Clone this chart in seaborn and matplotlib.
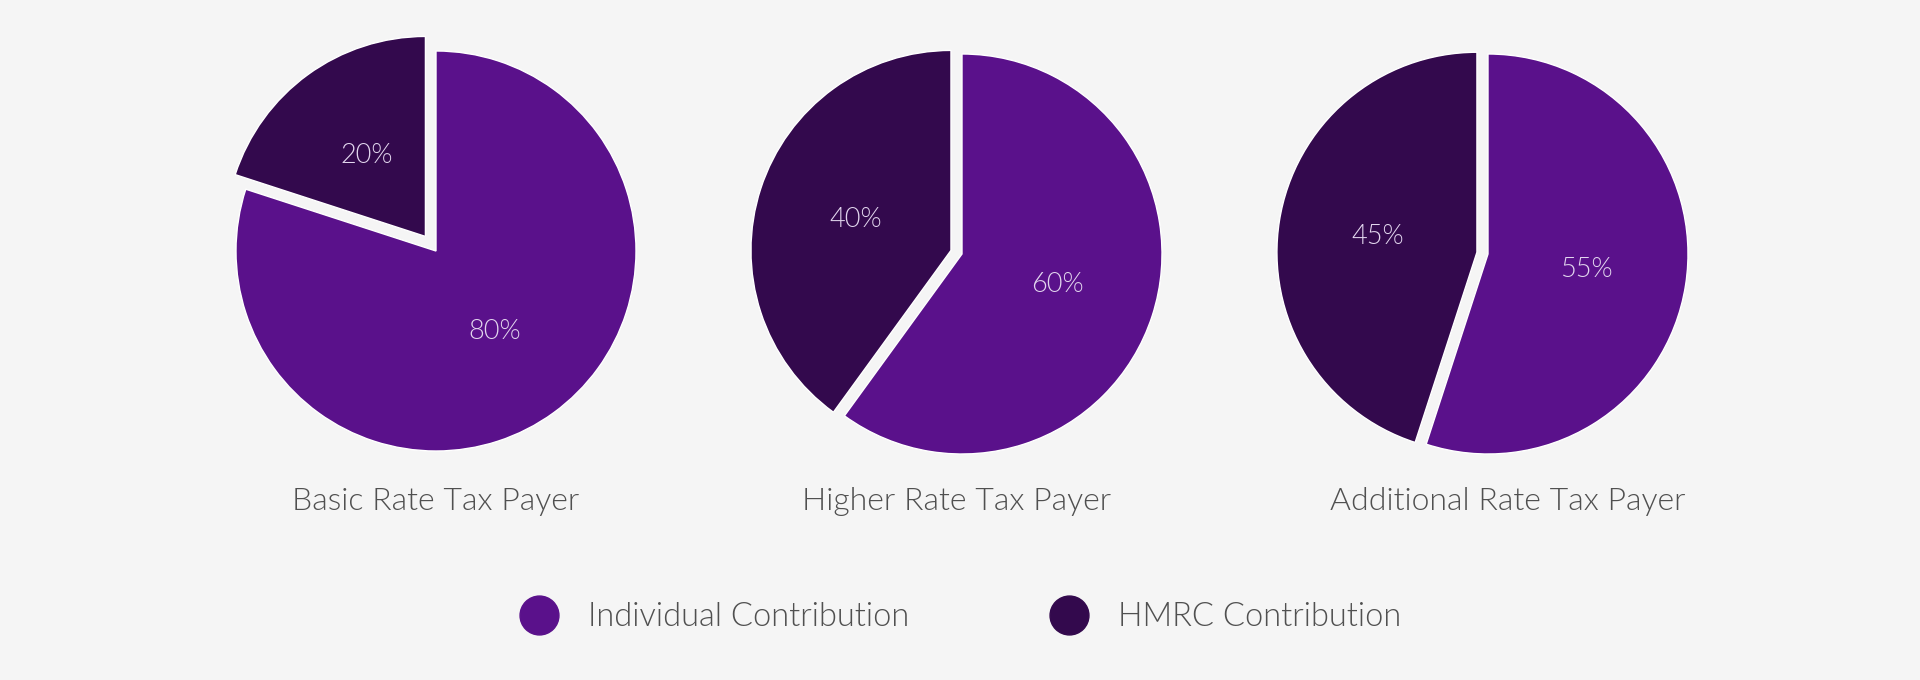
import matplotlib
matplotlib.use("Agg")
import matplotlib.pyplot as plt
from matplotlib.lines import Line2D
import seaborn as sns

# data
payer_types = ["Basic Rate Tax Payer", "Higher Rate Tax Payer", "Additional Rate Tax Payer"]
hmrc_share = [20, 40, 45]
individual_share = [80, 60, 55]
series_names = ["Individual Contribution", "HMRC Contribution"]

sns.set_theme(style="white")
plt.rcParams['font.family'] = ['Lato', 'DejaVu Sans']

bg = "#f5f5f5"
palette = sns.color_palette(["#5a118b", "#33094d"])
ind_color, hmrc_color = palette[0], palette[1]
text_grey = "#505050"

fig = plt.figure(figsize=(19.2, 6.8), dpi=100, facecolor=bg)

# layout in pixels
centers = [(436, 251), (962, 254), (1488, 254)]
title_dx = [0, -5, 20]
hmrc_explode = [0.09, 0.058, 0.056]
r_px = 200
half = 1.25

for i, name in enumerate(payer_types):
    cx, cy = centers[i]
    w = 2 * half * r_px
    ax = fig.add_axes([(cx - half * r_px) / 1920, (680 - cy - half * r_px) / 680,
                       w / 1920, w / 680])
    ax.set_facecolor(bg)
    vals = [hmrc_share[i], individual_share[i]]
    wedges, texts, autotexts = ax.pie(
        vals, colors=[hmrc_color, ind_color], startangle=90, counterclock=True,
        explode=[hmrc_explode[i], 0.0], autopct="%d%%", pctdistance=0.5,
        textprops=dict(color="#e2d6ee", fontsize=19.5, fontweight=300))
    ax.set_xlim(-half, half)
    ax.set_ylim(-half, half)
    ax.set_aspect("equal")
    ax.axis("off")
    ax.text(title_dx[i] / r_px, (cy - 501) / r_px, name, ha="center", va="center",
            fontsize=23, color=text_grey, fontweight=300)

handles = [Line2D([0], [0], marker="o", linestyle="", markersize=28,
                  markerfacecolor=c, markeredgecolor=c) for c in [ind_color, hmrc_color]]
leg = fig.legend(handles, series_names, loc="center", bbox_to_anchor=(0.5, 0.0926),
                 ncol=2, frameon=False, fontsize=23.5, handlelength=1.2,
                 handletextpad=0.9, columnspacing=4.3)
for t in leg.get_texts():
    t.set_color(text_grey)
    t.set_fontweight(300)

fig.savefig("out.png", dpi=100, facecolor=bg)
